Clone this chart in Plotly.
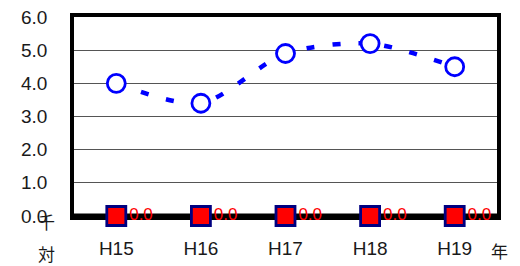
import plotly.graph_objects as go

categories = ["H15", "H16", "H17", "H18", "H19"]
series_a = [4.0, 3.4, 4.9, 5.2, 4.5]
series_b = [0.0, 0.0, 0.0, 0.0, 0.0]
y_ticks = [0, 1, 2, 3, 4, 5, 6]
y_tick_labels = ["0.0", "1.0", "2.0", "3.0", "4.0", "5.0", "6.0"]

FONT = "Liberation Sans, Arial, sans-serif"
JP = "Noto Sans CJK JP, sans-serif"

W, H = 520, 266
ML, MR, MT, MB = 74, 23, 17, 50

fig = go.Figure()
fig.add_trace(go.Scatter(
    x=categories, y=series_a, mode="lines+markers",
    line=dict(color="#0000ff", width=4.5, dash="8px,18px", shape="spline", smoothing=0.8),
    marker=dict(symbol="circle", size=18, color="white", line=dict(color="#0000ff", width=2.8)),
    showlegend=False, cliponaxis=False,
))
fig.add_trace(go.Scatter(
    x=categories, y=series_b, mode="markers+text",
    marker=dict(symbol="square", size=19, color="#ff0000", line=dict(color="#000080", width=2.8)),
    text=[f"{v:.1f}" for v in series_b], textposition="middle right",
    textfont=dict(color="#ff0000", size=17, family=FONT),
    showlegend=False, cliponaxis=False,
))

fig.add_shape(type="line", xref="paper", yref="y", x0=0, x1=1, y0=0, y1=0,
              line=dict(color="black", width=5), layer="below")

pw = W - ML - MR
ph = H - MT - MB
def px_to_paper(xp, yp):
    return (xp - ML) / pw, (H - MB - yp) / ph

ax, ay = px_to_paper(500, 250)
bx1, by1 = px_to_paper(46, 222)
bx2, by2 = px_to_paper(46, 253)

ann_font = dict(size=17, family=JP, color="#1a1a1a")
fig.update_layout(
    width=W, height=H,
    margin=dict(l=ML, r=MR, t=MT, b=MB, autoexpand=False),
    paper_bgcolor="white", plot_bgcolor="white",
    font=dict(family=FONT, color="#1a1a1a", size=16),
    xaxis=dict(type="category", range=[-0.5, 4.5], showgrid=False,
               showline=True, linecolor="black", linewidth=3.5, mirror=True,
               ticks="", ticklabelstandoff=12, layer="below traces",
               tickfont=dict(size=19, family=FONT)),
    yaxis=dict(range=[0, 6], tickvals=y_ticks, ticktext=y_tick_labels,
               showgrid=True, gridcolor="#555", gridwidth=1,
               showline=True, linecolor="black", linewidth=3.5, mirror=True,
               ticks="", ticklabelstandoff=19, zeroline=False, layer="below traces",
               tickfont=dict(size=19, family=FONT)),
    annotations=[
        dict(text="年", x=ax, y=ay, xref="paper", yref="paper", showarrow=False,
             xanchor="center", yanchor="middle", font=ann_font),
        dict(text="千", x=bx1, y=by1, xref="paper", yref="paper", showarrow=False,
             xanchor="center", yanchor="middle", font=ann_font),
        dict(text="対", x=bx2, y=by2, xref="paper", yref="paper", showarrow=False,
             xanchor="center", yanchor="middle", font=ann_font),
    ],
)

fig.write_html("out.html", config={"displayModeBar": False},
               post_script="document.body.style.margin='0';")
